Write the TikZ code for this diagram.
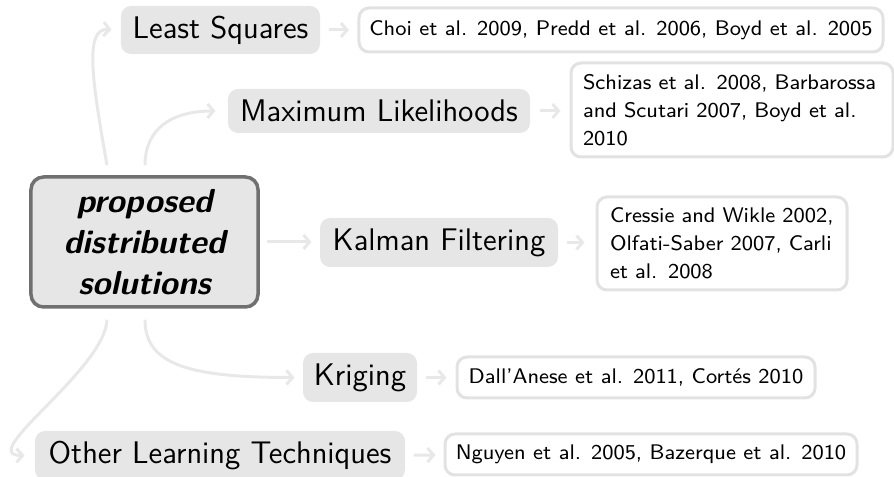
\documentclass[tikz,border=0pt]{standalone}
\usetikzlibrary{arrows.meta}
\definecolor{topicgray}{RGB}{230,230,230}
\definecolor{refgray}{RGB}{226,226,226}
\definecolor{conngray}{RGB}{232,232,232}
\definecolor{maingray}{RGB}{112,112,112}
\begin{document}
\begin{tikzpicture}[x=0.4pt,y=-0.4pt,
  mainnode/.style={fill=topicgray, draw=maingray, line width=1.4pt, rounded corners=5pt, inner sep=0pt, align=center,
    font=\sffamily\bfseries\slshape\fontsize{13.3}{16.5}\selectfont},
  topic/.style={fill=topicgray, rounded corners=4pt, inner sep=0pt,
    font=\sffamily\fontsize{12.5}{14}\selectfont},
  refbox/.style={draw=refgray, line width=1.2pt, fill=white, rounded corners=4pt, inner ysep=0pt, align=left,
    font=\sffamily\fontsize{8.45}{11.3}\selectfont},
  conn/.style={draw=conngray, line width=1.2pt, -{Straight Barb[length=2.4pt,width=5.6pt]}},
]
\useasboundingbox (0,0) rectangle (894,477);

\node[mainnode, minimum width=90.8pt, minimum height=52pt] (main) at (144.5,242) {proposed\\distributed\\solutions};

\node[topic, minimum width=79.6pt, minimum height=19.2pt] (ls) at (220.5,30) {Least Squares};
\node[topic, minimum width=120.8pt, minimum height=17.6pt] (ml) at (379,111) {Maximum Likelihoods};
\node[topic, minimum width=95.2pt, minimum height=19.6pt] (kf) at (439,242.5) {Kalman Filtering};
\node[topic, minimum width=45.6pt, minimum height=19.6pt] (kr) at (360,377.5) {Kriging};
\node[topic, minimum width=148pt, minimum height=19.6pt] (ol) at (220,455.5) {Other Learning Techniques};

\node[refbox, minimum width=209.6pt, minimum height=17.6pt, inner xsep=0pt] (lsr) at (621,30) {Choi et al. 2009, Predd et al. 2006, Boyd et al. 2005};
\node[refbox, text width=119.2pt, inner xsep=4.8pt, minimum height=37.6pt] (mlr) at (732,110) {Schizas et al. 2008, Barbarossa\\and Scutari 2007, Boyd et al.\\2010};
\node[refbox, text width=89.6pt, inner xsep=5.2pt, minimum height=37.2pt] (kfr) at (722,243.5) {Cressie and Wikle 2002,\\Olfati-Saber 2007, Carli\\et al. 2008};
\node[refbox, minimum width=143.2pt, minimum height=16.4pt, inner xsep=0pt] (krr) at (636,377.5) {Dall'Anese et al. 2011, Cort\'es 2010};
\node[refbox, minimum width=164.8pt, minimum height=16.4pt, inner xsep=0pt] (olr) at (651,454.5) {Nguyen et al. 2005, Bazerque et al. 2010};

\draw[conn, shorten <=3.2pt, shorten >=3.4pt] (ls) -- (lsr);
\draw[conn, shorten <=3.6pt, shorten >=3.6pt] (ml.east) -- (ml.east -| mlr.west);
\draw[conn, shorten <=3.2pt, shorten >=4.4pt] (kf.east) -- (kf.east -| kfr.west);
\draw[conn, shorten <=3.2pt, shorten >=3.6pt] (kr) -- (krr);
\draw[conn, shorten <=3.2pt, shorten >=3.2pt] (ol) -- (olr);

\draw[conn, shorten >=3.6pt] ([xshift=-15pt,yshift=4pt]main.north) .. controls (92,80) and (84,28) .. (ls.west);
\draw[conn, shorten >=4.8pt] ([xshift=0.2pt,yshift=4pt]main.north) .. controls (145,130) and (170,111) .. (ml.west);
\draw[conn, shorten <=2.8pt, shorten >=3.2pt] (main.east) -- (main.east -| kf.west);
\draw[conn, shorten >=3.2pt] ([xshift=0.2pt,yshift=-4.4pt]main.south) .. controls (145,365) and (190,377.5) .. (kr.west);
\draw[conn, shorten >=4pt] ([xshift=-15pt,yshift=-4.4pt]main.south) .. controls (105,370) and (-25,455.5) .. (ol.west);
\end{tikzpicture}
\end{document}
